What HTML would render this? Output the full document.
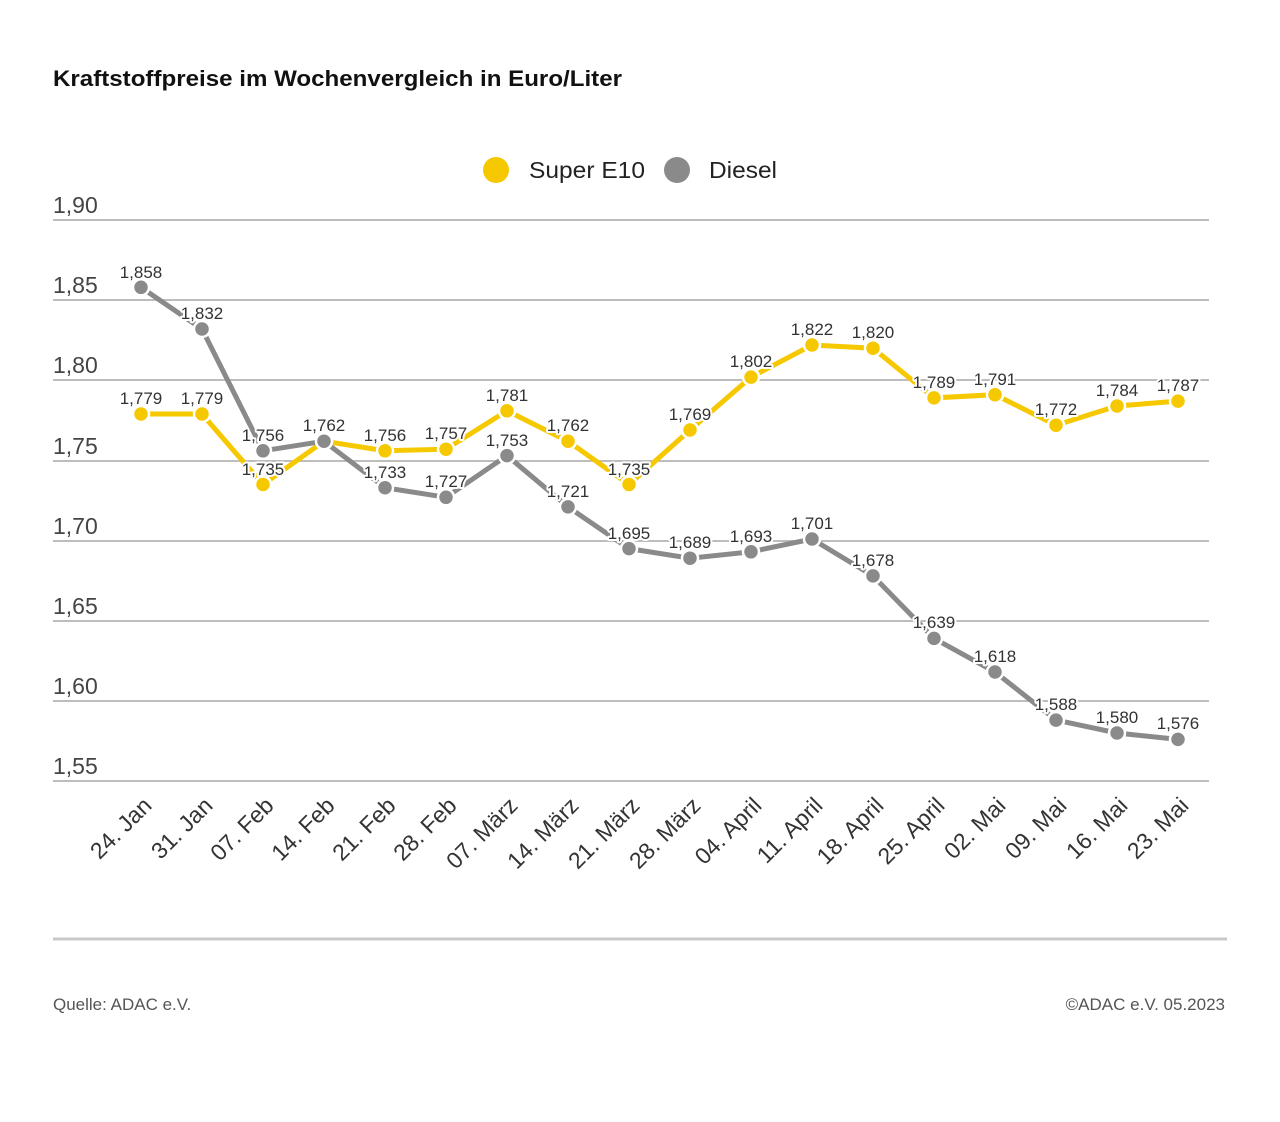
<!DOCTYPE html>
<html><head><meta charset="utf-8"><style>
html,body{margin:0;padding:0;background:#fff;}
svg{display:block;font-family:"Liberation Sans",sans-serif;}
.lbl{font-size:17px;fill:#333;text-anchor:middle;stroke:#fff;stroke-width:4px;paint-order:stroke;stroke-linejoin:round;}
.yt{font-size:23px;fill:#444;}
.xt{font-size:23px;fill:#333;text-anchor:end;}
</style></head><body>
<svg width="1280" height="1122" viewBox="0 0 1280 1122">
<text x="53" y="86" font-size="22" font-weight="bold" fill="#111" textLength="569" lengthAdjust="spacingAndGlyphs">Kraftstoffpreise im Wochenvergleich in Euro/Liter</text>
<circle cx="496" cy="170" r="13" fill="#f6c800"/>
<text x="529" y="178" font-size="23" fill="#222" textLength="116" lengthAdjust="spacingAndGlyphs">Super E10</text>
<circle cx="677" cy="170" r="13" fill="#8a8a8a"/>
<text x="709" y="178" font-size="23" fill="#222" textLength="68" lengthAdjust="spacingAndGlyphs">Diesel</text>
<g stroke="#bdbdbd" stroke-width="2">
<line x1="53" y1="220" x2="1209" y2="220"/><line x1="53" y1="300" x2="1209" y2="300"/><line x1="53" y1="380" x2="1209" y2="380"/><line x1="53" y1="461" x2="1209" y2="461"/><line x1="53" y1="541" x2="1209" y2="541"/><line x1="53" y1="621" x2="1209" y2="621"/><line x1="53" y1="701" x2="1209" y2="701"/><line x1="53" y1="781" x2="1209" y2="781"/>
</g>
<g class="yt">
<text x="53" y="213">1,90</text><text x="53" y="293">1,85</text><text x="53" y="373">1,80</text><text x="53" y="454">1,75</text><text x="53" y="534">1,70</text><text x="53" y="614">1,65</text><text x="53" y="694">1,60</text><text x="53" y="774">1,55</text>
</g>
<g fill="#f6c800" stroke="#fff" stroke-width="2.5">
<polyline fill="none" stroke="#f6c800" stroke-width="5" points="141,414 202,414 263,484.5 324,441.2 385,450.8 446,449.2 507,410.8 568,441.2 629,484.5 690,430 751,377.1 812,345 873,348.2 934,397.9 995,394.7 1056,425.2 1117,406 1178,401.1"/>
<circle cx="141" cy="414" r="8"/><circle cx="202" cy="414" r="8"/><circle cx="263" cy="484.5" r="8"/><circle cx="324" cy="441.2" r="8"/><circle cx="385" cy="450.8" r="8"/><circle cx="446" cy="449.2" r="8"/><circle cx="507" cy="410.8" r="8"/><circle cx="568" cy="441.2" r="8"/><circle cx="629" cy="484.5" r="8"/><circle cx="690" cy="430" r="8"/><circle cx="751" cy="377.1" r="8"/><circle cx="812" cy="345" r="8"/><circle cx="873" cy="348.2" r="8"/><circle cx="934" cy="397.9" r="8"/><circle cx="995" cy="394.7" r="8"/><circle cx="1056" cy="425.2" r="8"/><circle cx="1117" cy="406" r="8"/><circle cx="1178" cy="401.1" r="8"/>
</g>
<g fill="#8a8a8a" stroke="#fff" stroke-width="2.5">
<polyline fill="none" stroke="#8a8a8a" stroke-width="5" points="141,287.3 202,329 263,450.8 324,441.2 385,487.7 446,497.3 507,455.6 568,506.9 629,548.6 690,558.2 751,551.8 812,539 873,575.9 934,638.4 995,672 1056,720.1 1117,733 1178,739.4"/>
<circle cx="141" cy="287.3" r="8"/><circle cx="202" cy="329" r="8"/><circle cx="263" cy="450.8" r="8"/><circle cx="324" cy="441.2" r="8"/><circle cx="385" cy="487.7" r="8"/><circle cx="446" cy="497.3" r="8"/><circle cx="507" cy="455.6" r="8"/><circle cx="568" cy="506.9" r="8"/><circle cx="629" cy="548.6" r="8"/><circle cx="690" cy="558.2" r="8"/><circle cx="751" cy="551.8" r="8"/><circle cx="812" cy="539" r="8"/><circle cx="873" cy="575.9" r="8"/><circle cx="934" cy="638.4" r="8"/><circle cx="995" cy="672" r="8"/><circle cx="1056" cy="720.1" r="8"/><circle cx="1117" cy="733" r="8"/><circle cx="1178" cy="739.4" r="8"/>
</g>
<g class="lbl">
<text x="141" y="404">1,779</text><text x="202" y="404">1,779</text><text x="263" y="475">1,735</text><text x="324" y="431">1,762</text><text x="385" y="441">1,756</text><text x="446" y="439">1,757</text><text x="507" y="401">1,781</text><text x="568" y="431">1,762</text><text x="629" y="475">1,735</text><text x="690" y="420">1,769</text><text x="751" y="367">1,802</text><text x="812" y="335">1,822</text><text x="873" y="338">1,820</text><text x="934" y="388">1,789</text><text x="995" y="385">1,791</text><text x="1056" y="415">1,772</text><text x="1117" y="396">1,784</text><text x="1178" y="391">1,787</text>
<text x="141" y="278">1,858</text><text x="202" y="319">1,832</text><text x="263" y="441">1,756</text><text x="385" y="478">1,733</text><text x="446" y="487">1,727</text><text x="507" y="446">1,753</text><text x="568" y="497">1,721</text><text x="629" y="539">1,695</text><text x="690" y="548">1,689</text><text x="751" y="542">1,693</text><text x="812" y="529">1,701</text><text x="873" y="566">1,678</text><text x="934" y="628">1,639</text><text x="995" y="662">1,618</text><text x="1056" y="710">1,588</text><text x="1117" y="723">1,580</text><text x="1178" y="729">1,576</text>
</g>
<g class="xt">
<text transform="translate(153,807) rotate(-45)">24. Jan</text>
<text transform="translate(214,807) rotate(-45)">31. Jan</text>
<text transform="translate(275,807) rotate(-45)">07. Feb</text>
<text transform="translate(336,807) rotate(-45)">14. Feb</text>
<text transform="translate(397,807) rotate(-45)">21. Feb</text>
<text transform="translate(458,807) rotate(-45)">28. Feb</text>
<text transform="translate(519,807) rotate(-45)">07. März</text>
<text transform="translate(580,807) rotate(-45)">14. März</text>
<text transform="translate(641,807) rotate(-45)">21. März</text>
<text transform="translate(702,807) rotate(-45)">28. März</text>
<text transform="translate(763,807) rotate(-45)">04. April</text>
<text transform="translate(824,807) rotate(-45)">11. April</text>
<text transform="translate(885,807) rotate(-45)">18. April</text>
<text transform="translate(946,807) rotate(-45)">25. April</text>
<text transform="translate(1007,807) rotate(-45)">02. Mai</text>
<text transform="translate(1068,807) rotate(-45)">09. Mai</text>
<text transform="translate(1129,807) rotate(-45)">16. Mai</text>
<text transform="translate(1190,807) rotate(-45)">23. Mai</text>
</g>
<line x1="53" y1="939" x2="1227" y2="939" stroke="#c8c8c8" stroke-width="3"/>
<text x="53" y="1010" font-size="17" fill="#555">Quelle: ADAC e.V.</text>
<text x="1225" y="1010" font-size="17" fill="#555" text-anchor="end">©ADAC e.V. 05.2023</text>
</svg>
</body></html>
